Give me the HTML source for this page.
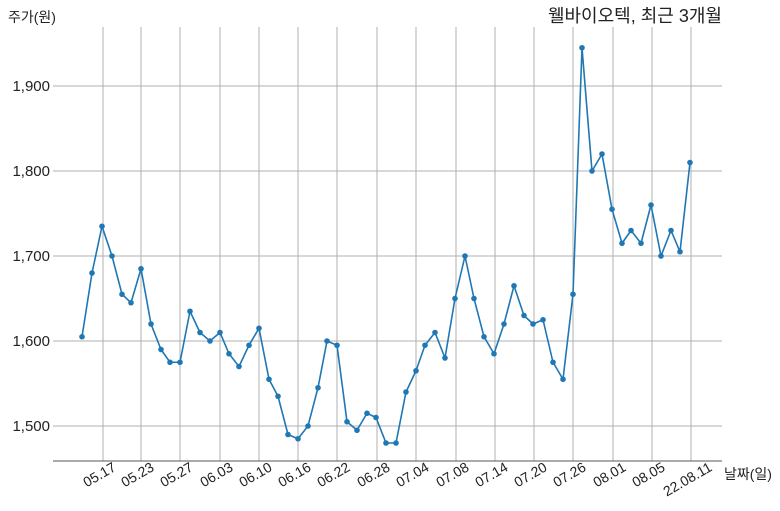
<!DOCTYPE html>
<html><head><meta charset="utf-8"><style>body{margin:0;background:#fff}svg{display:block;font-family:"Liberation Sans","Noto Sans CJK KR",sans-serif}</style></head>
<body>
<svg width="780" height="511" xmlns="http://www.w3.org/2000/svg">
<g stroke="#b0b0b0" stroke-width="1">
<line x1="53" x2="722" y1="86" y2="86"/><line x1="53" x2="722" y1="171" y2="171"/><line x1="53" x2="722" y1="256" y2="256"/><line x1="53" x2="722" y1="341" y2="341"/><line x1="53" x2="722" y1="426" y2="426"/>
<line x1="103" x2="103" y1="27" y2="461"/><line x1="141" x2="141" y1="27" y2="461"/><line x1="180" x2="180" y1="27" y2="461"/><line x1="220" x2="220" y1="27" y2="461"/><line x1="259" x2="259" y1="27" y2="461"/><line x1="298" x2="298" y1="27" y2="461"/><line x1="337" x2="337" y1="27" y2="461"/><line x1="377" x2="377" y1="27" y2="461"/><line x1="416" x2="416" y1="27" y2="461"/><line x1="456" x2="456" y1="27" y2="461"/><line x1="495" x2="495" y1="27" y2="461"/><line x1="534" x2="534" y1="27" y2="461"/><line x1="573" x2="573" y1="27" y2="461"/><line x1="613" x2="613" y1="27" y2="461"/><line x1="652" x2="652" y1="27" y2="461"/><line x1="691" x2="691" y1="27" y2="461"/>
</g>
<line x1="53" x2="722" y1="461" y2="461" stroke="#555" stroke-width="1"/>
<g font-size="15" fill="#222" text-anchor="end">
<text x="50" y="91">1,900</text><text x="50" y="176">1,800</text><text x="50" y="261">1,700</text><text x="50" y="346">1,600</text><text x="50" y="431">1,500</text>
</g>
<g font-size="14" fill="#222" text-anchor="end">
<text transform="translate(117,470) rotate(-30)">05.17</text>
<text transform="translate(155,470) rotate(-30)">05.23</text>
<text transform="translate(194,470) rotate(-30)">05.27</text>
<text transform="translate(234,470) rotate(-30)">06.03</text>
<text transform="translate(273,470) rotate(-30)">06.10</text>
<text transform="translate(312,470) rotate(-30)">06.16</text>
<text transform="translate(351,470) rotate(-30)">06.22</text>
<text transform="translate(391,470) rotate(-30)">06.28</text>
<text transform="translate(430,470) rotate(-30)">07.04</text>
<text transform="translate(470,470) rotate(-30)">07.08</text>
<text transform="translate(509,470) rotate(-30)">07.14</text>
<text transform="translate(548,470) rotate(-30)">07.20</text>
<text transform="translate(587,470) rotate(-30)">07.26</text>
<text transform="translate(627,470) rotate(-30)">08.01</text>
<text transform="translate(666,470) rotate(-30)">08.05</text>
<text transform="translate(713,470) rotate(-30)">22.08.11</text>
</g>
<text x="8" y="22" font-size="14" fill="#222">주가(원)</text>
<text x="724" y="479" font-size="14" fill="#222">날짜(일)</text>
<text x="722" y="22" font-size="18" fill="#222" text-anchor="end">웰바이오텍, 최근 3개월</text>
<g id="d">
<polyline fill="none" stroke="#1f77b4" stroke-width="1.6" points="82,336.75 92,273 102,226.25 112,256 122,294.25 131,302.75 141,268.75 151,324 161,349.5 170,362.25 180,362.25 190,311.25 200,332.5 210,341 220,332.5 229,353.75 239,366.5 249,345.25 259,328.25 269,379.25 278,396.25 288,434.5 298,438.75 308,426 318,387.75 327,341 337,345.25 347,421.75 357,430.25 367,413.25 376,417.5 386,443 396,443 406,392 416,370.75 425,345.25 435,332.5 445,358 455,298.5 465,256 474,298.5 484,336.75 494,353.75 504,324 514,285.75 524,315.5 533,324 543,319.75 553,362.25 563,379.25 573,294.25 582,47.75 592,171 602,154 612,209.25 622,243.25 631,230.5 641,243.25 651,205 661,256 671,230.5 680,251.75 690,162.5"/>
</g>
<g fill="#1f77b4" id="m"></g>
<script>
var p=document.querySelector('polyline').getAttribute('points').trim().split(/\s+/);var g=document.getElementById('m');
p.forEach(function(s){var a=s.split(',');var c=document.createElementNS('http://www.w3.org/2000/svg','circle');c.setAttribute('cx',a[0]);c.setAttribute('cy',a[1]);c.setAttribute('r','2.8');g.appendChild(c);});
</script>
</svg>
</body></html>
